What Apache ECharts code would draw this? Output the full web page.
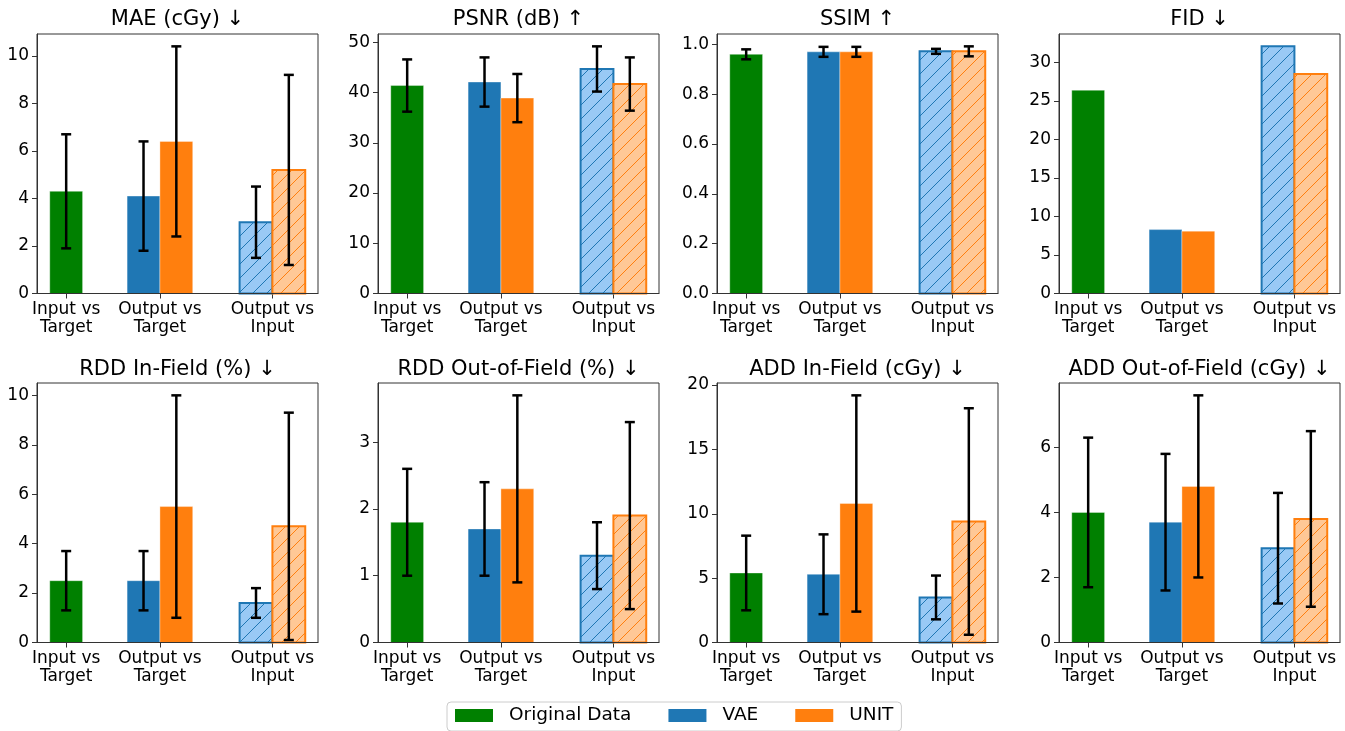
<!DOCTYPE html>
<html><head><meta charset="utf-8">
<script src="https://cdn.jsdelivr.net/npm/echarts@6/dist/echarts.min.js"></script>
<style>html,body{margin:0;padding:0;background:#fff}#chart{width:1345px;height:731px}</style>
</head><body><div id="chart"></div>
<script>
// ---------------- data ----------------
const metricTitles = ['MAE (cGy) ↓','PSNR (dB) ↑','SSIM ↑','FID ↓','RDD In-Field (%) ↓','RDD Out-of-Field (%) ↓','ADD In-Field (cGy) ↓','ADD Out-of-Field (cGy) ↓'];
const categories = ['Input vs\nTarget','Output vs\nTarget','Output vs\nInput'];
const categoryPos = [0, 1, 2.2];
const tickStep = [2, 10, 0.2, 5, 2, 1, 5, 2];
const seriesNames = ['Original Data','VAE','UNIT'];
const origMean       = [4.3, 41.4, 0.96, 26.4, 2.5, 1.8, 5.4, 4.0];
const origStd        = [2.4, 5.2, 0.02, null, 1.2, 0.8, 2.9, 2.3];
const vaeTargetMean  = [4.1, 42.1, 0.97, 8.3, 2.5, 1.7, 5.3, 3.7];
const vaeTargetStd   = [2.3, 4.9, 0.02, null, 1.2, 0.7, 3.1, 2.1];
const unitTargetMean = [6.4, 38.9, 0.97, 8.1, 5.5, 2.3, 10.8, 4.8];
const unitTargetStd  = [4.0, 4.8, 0.02, null, 4.5, 1.4, 8.4, 2.8];
const vaeInputMean   = [3.0, 44.7, 0.972, 32.1, 1.6, 1.3, 3.5, 2.9];
const vaeInputStd    = [1.5, 4.5, 0.01, null, 0.6, 0.5, 1.7, 1.7];
const unitInputMean  = [5.2, 41.7, 0.972, 28.5, 4.7, 1.9, 9.4, 3.8];
const unitInputStd   = [4.0, 5.3, 0.02, null, 4.6, 1.4, 8.8, 2.7];

// ---------------- style / layout ----------------
const FONT = 'DejaVu Sans';
const GREEN = '#008000', BLUE = '#1f77b4', ORANGE = '#ff7f0e';
const LIGHT_BLUE = '#99c9f5', LIGHT_ORANGE = '#ffc896';
const BAR_W = 0.35;
const HATCH_SP = 14;
const CAP = 10;
const gridLefts = [37, 378, 717, 1059];
const gridTops = [34, 383];
const gridW = 281, gridH = 259.5;
const titleY = [20, 370];

const lo = categoryPos[0] - BAR_W / 2, hi = categoryPos[2] + BAR_W;
const xMin = lo - (hi - lo) * 0.05, xMax = hi + (hi - lo) * 0.05;

function makeBarRenderer(color, lightColor) {
  return function (params, api) {
    const cx = api.value(0), v = api.value(1), hatched = api.value(2);
    const tl = api.coord([cx - BAR_W / 2, v]);
    const br = api.coord([cx + BAR_W / 2, 0]);
    const x0 = tl[0], y0 = tl[1], x1 = br[0], y1 = br[1];
    const shape = {x: x0, y: y0, width: x1 - x0, height: y1 - y0};
    if (!hatched) {
      return {type: 'rect', shape, style: {fill: color, stroke: 'rgba(255,255,255,0.35)', lineWidth: 1}};
    }
    const children = [{type: 'rect', shape, style: {fill: lightColor}}];
    const kStart = Math.ceil((x0 + y0) / HATCH_SP) * HATCH_SP;
    for (let k = kStart; k <= x1 + y1; k += HATCH_SP) {
      const a = Math.max(x0, k - y1), b = Math.min(x1, k - y0);
      if (b - a > 0.5) children.push({type: 'line', shape: {x1: a, y1: k - a, x2: b, y2: k - b}, style: {stroke: color, lineWidth: 1}});
    }
    children.push({type: 'rect', shape, style: {fill: null, stroke: color, lineWidth: 2}});
    return {type: 'group', children};
  };
}
function renderErr(params, api) {
  const cx = api.value(0), m = api.value(1), s = api.value(2);
  const t = api.coord([cx, m + s]), b = api.coord([cx, m - s]);
  const st = {stroke: '#000', lineWidth: 2.5};
  return {type: 'group', children: [
    {type: 'line', shape: {x1: t[0], y1: t[1], x2: b[0], y2: b[1]}, style: st},
    {type: 'line', shape: {x1: t[0] - CAP / 2, y1: t[1], x2: t[0] + CAP / 2, y2: t[1]}, style: st},
    {type: 'line', shape: {x1: b[0] - CAP / 2, y1: b[1], x2: b[0] + CAP / 2, y2: b[1]}, style: st}
  ]};
}

const axisLineStyle = {show: true, onZero: false, lineStyle: {color: '#333', width: 1}};
const grids = [], xAxes = [], yAxes = [], series = [], graphics = [];
for (let i = 0; i < 8; i++) {
  const row = Math.floor(i / 4), col = i % 4;
  const left = gridLefts[col], top = gridTops[row];
  grids.push({left, top, width: gridW, height: gridH, show: false});
  const tops = [origMean[i] + (origStd[i] || 0), vaeTargetMean[i] + (vaeTargetStd[i] || 0), unitTargetMean[i] + (unitTargetStd[i] || 0), vaeInputMean[i] + (vaeInputStd[i] || 0), unitInputMean[i] + (unitInputStd[i] || 0)];
  const yMax = Math.max.apply(null, tops) * 1.05;
  const step = tickStep[i];
  const yTicks = [];
  for (let v = 0; v <= yMax + 1e-9; v += step) yTicks.push(Math.round(v * 1e6) / 1e6);
  xAxes.push({
    type: 'value', gridIndex: i, min: xMin, max: xMax, position: 'bottom',
    splitLine: {show: false}, axisLine: axisLineStyle,
    axisTick: {show: true, length: 5, lineStyle: {color: '#333', width: 1}, customValues: categoryPos},
    axisLabel: {customValues: categoryPos, color: '#000', fontSize: 17, lineHeight: 18, margin: 7, fontFamily: FONT,
      formatter: function (v) { let bi = 0; categoryPos.forEach((p, j) => { if (Math.abs(p - v) < Math.abs(categoryPos[bi] - v)) bi = j; }); return categories[bi]; }}
  });
  yAxes.push({
    type: 'value', gridIndex: i, min: 0, max: yMax, position: 'left',
    splitLine: {show: false}, axisLine: axisLineStyle,
    axisTick: {show: true, length: 5, lineStyle: {color: '#333', width: 1}, customValues: yTicks},
    axisLabel: {customValues: yTicks, color: '#000', fontSize: 17, margin: 8, fontFamily: FONT,
      formatter: function (v) { return step < 1 ? v.toFixed(1) : String(Math.round(v)); }}
  });
  const off = BAR_W / 2;
  series.push({
    type: 'custom', name: seriesNames[0], xAxisIndex: i, yAxisIndex: i, z: 2,
    itemStyle: {color: GREEN}, renderItem: makeBarRenderer(GREEN, GREEN),
    data: [[categoryPos[0], origMean[i], 0]]
  });
  series.push({
    type: 'custom', name: seriesNames[1], xAxisIndex: i, yAxisIndex: i, z: 2,
    itemStyle: {color: BLUE}, renderItem: makeBarRenderer(BLUE, LIGHT_BLUE),
    data: [[categoryPos[1] - off, vaeTargetMean[i], 0], [categoryPos[2] - off, vaeInputMean[i], 1]]
  });
  series.push({
    type: 'custom', name: seriesNames[2], xAxisIndex: i, yAxisIndex: i, z: 2,
    itemStyle: {color: ORANGE}, renderItem: makeBarRenderer(ORANGE, LIGHT_ORANGE),
    data: [[categoryPos[1] + off, unitTargetMean[i], 0], [categoryPos[2] + off, unitInputMean[i], 1]]
  });
  const err = [];
  if (origStd[i] != null) err.push([categoryPos[0], origMean[i], origStd[i]]);
  if (vaeTargetStd[i] != null) err.push([categoryPos[1] - off, vaeTargetMean[i], vaeTargetStd[i]]);
  if (unitTargetStd[i] != null) err.push([categoryPos[1] + off, unitTargetMean[i], unitTargetStd[i]]);
  if (vaeInputStd[i] != null) err.push([categoryPos[2] - off, vaeInputMean[i], vaeInputStd[i]]);
  if (unitInputStd[i] != null) err.push([categoryPos[2] + off, unitInputMean[i], unitInputStd[i]]);
  series.push({type: 'custom', name: 'errorbars', xAxisIndex: i, yAxisIndex: i, z: 5, renderItem: renderErr, data: err, silent: true});
  graphics.push({type: 'rect', z: 50, silent: true, shape: {x: left, y: top, width: gridW, height: gridH}, style: {fill: null, stroke: '#333', lineWidth: 1}});
  graphics.push({type: 'text', z: 50, x: left + gridW / 2, y: titleY[row], style: {text: metricTitles[i], fontSize: 21, fontFamily: FONT, fill: '#000', align: 'center', verticalAlign: 'middle'}});
}

const chart = echarts.init(document.getElementById('chart'));
chart.setOption({
  animation: false,
  backgroundColor: '#fff',
  textStyle: {fontFamily: FONT},
  grid: grids, xAxis: xAxes, yAxis: yAxes, series,
  graphic: {elements: graphics},
  legend: {
    data: seriesNames, left: 447, top: 702, orient: 'horizontal', icon: 'rect',
    itemWidth: 38, itemHeight: 13, itemGap: 37, selectedMode: false,
    padding: [4, 8, 6, 8], borderColor: '#ccc', borderWidth: 1, borderRadius: 4,
    textStyle: {fontSize: 18.5, color: '#000', fontFamily: FONT, padding: [0, 0, 0, 11]}
  }
});
</script></body></html>
